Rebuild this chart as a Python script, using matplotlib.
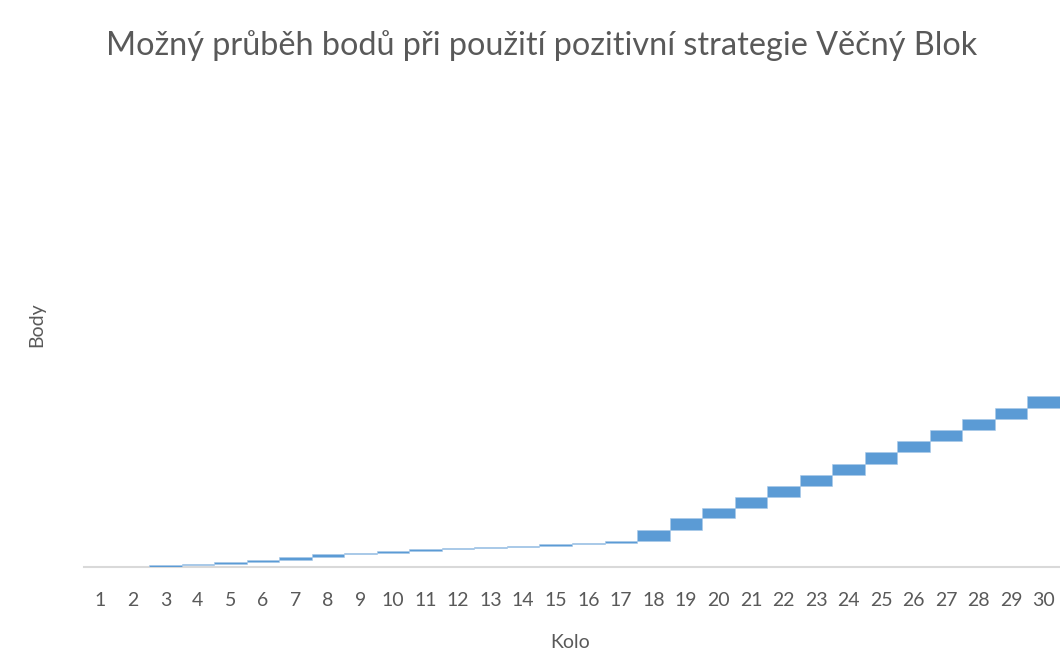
import matplotlib
matplotlib.use("Agg")
import matplotlib.pyplot as plt
import numpy as np

rounds = list(range(1, 31))
# cumulative points after each round
cumulative = [0, 0, 1.6, 2.6, 4.2, 6.6, 8.8, 11.5, 12.8, 14.2, 15.5, 16.8, 17.7, 18.6, 19.9,
              21.2, 23.0, 32.7, 43.0, 52.0, 61.7, 71.7, 81.7, 91.4, 101.5, 111.2, 121.2,
              131.2, 141.0, 151.0]
tick_labels = [str(r) for r in rounds]

base = [0] + cumulative[:-1]
gain = [c - b for c, b in zip(cumulative, base)]

plt.rcParams['font.family'] = ['Lato', 'DejaVu Sans']

fig = plt.figure(figsize=(10.6, 6.63), dpi=100)
ax = fig.add_axes([84/1060, 1-567/663, (1060-84)/1060, (567-83)/663])

x = np.arange(len(rounds))
ax.bar(x, gain, bottom=base, width=1.0, color='#5B9BD5', edgecolor='#A9C9E8',
       linewidth=0.4, zorder=3)

ax.set_xlim(-0.5, len(rounds) - 0.5)
ax.set_ylim(0, 428)
ax.set_xticks(x)
ax.set_xticklabels(tick_labels, fontsize=14, color='#595959')
ax.set_yticks([])
ax.tick_params(axis='x', length=0, pad=18)
for s in ['top', 'right', 'left']:
    ax.spines[s].set_visible(False)
ax.spines['bottom'].set_color('#D9D9D9')
ax.spines['bottom'].set_linewidth(1.5)
ax.spines['bottom'].set_zorder(1)

fig.text(570/1060, 1-643/663, 'Kolo', fontsize=14, color='#595959', ha='center', va='center')
fig.text(37/1060, 1-325/663, 'Body', rotation=90, fontsize=14, color='#595959',
         ha='center', va='center')
fig.text(542/1060, 1-46/663, 'Možný průběh bodů při použití pozitivní strategie Věčný Blok',
         fontsize=23.3, color='#595959', ha='center', va='center')

fig.savefig('out.png', dpi=100)
